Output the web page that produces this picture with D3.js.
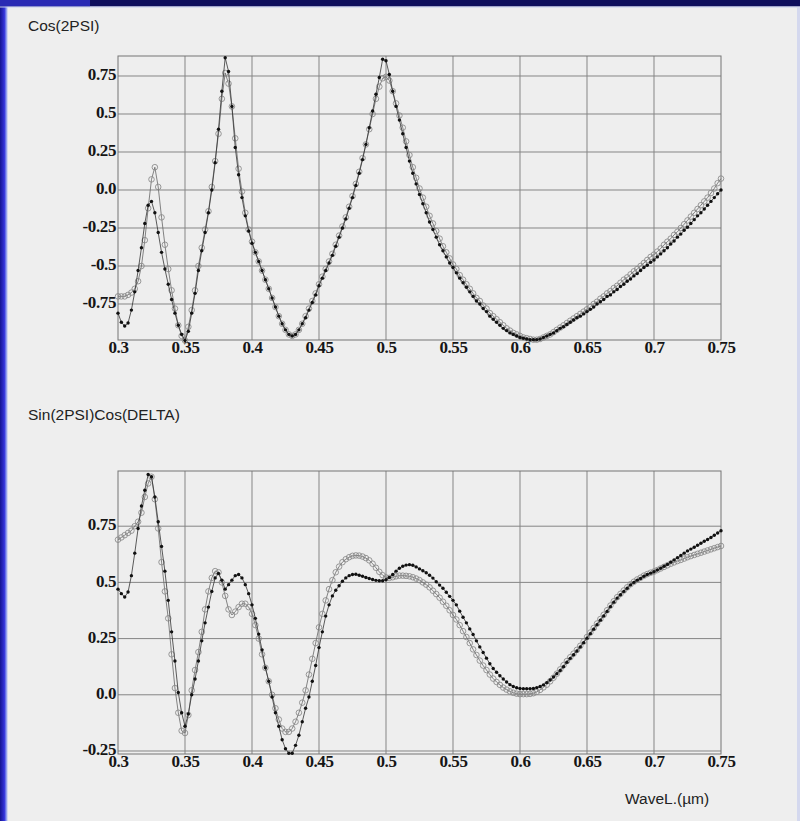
<!DOCTYPE html>
<html>
<head>
<meta charset="utf-8">
<script src="https://cdn.jsdelivr.net/npm/d3@7/dist/d3.min.js"></script>
<style>
  html, body { margin: 0; padding: 0; background: #eeeeee; }
  svg { display: block; }
</style>
</head>
<body>
<svg id="chart" width="800" height="821"></svg>
<script>
// ---- sample grid (wavelength, µm) ----
const waveStart = 0.3;
const waveStep = 0.0025;

// ---- Cos(2PSI) : filled dots ----
const cos2psiFilled = [
 -0.81,-0.87,-0.895,-0.875,-0.79,-0.67,-0.53,-0.38,-0.22,-0.10,
 -0.075,-0.15,-0.28,-0.41,-0.52,-0.62,-0.72,-0.81,-0.89,-0.95,
 -0.99,-0.93,-0.81,-0.68,-0.53,-0.40,-0.28,-0.15,0.0,0.18,
 0.40,0.65,0.87,0.78,0.55,0.28,0.10,-0.05,-0.17,-0.27,
 -0.35,-0.41,-0.47,-0.53,-0.59,-0.65,-0.71,-0.77,-0.83,-0.88,
 -0.92,-0.95,-0.96,-0.95,-0.92,-0.88,-0.84,-0.79,-0.74,-0.69,
 -0.63,-0.58,-0.53,-0.48,-0.43,-0.37,-0.31,-0.25,-0.19,-0.12,
 -0.05,0.03,0.11,0.20,0.30,0.41,0.52,0.63,0.74,0.86,
 0.85,0.76,0.65,0.55,0.46,0.37,0.28,0.19,0.11,0.04,
 -0.03,-0.09,-0.15,-0.21,-0.26,-0.31,-0.36,-0.40,-0.44,-0.48,
 -0.51,-0.545,-0.58,-0.61,-0.64,-0.67,-0.70,-0.73,-0.75,-0.78,
 -0.80,-0.83,-0.85,-0.87,-0.89,-0.91,-0.925,-0.94,-0.95,-0.96,
 -0.97,-0.975,-0.98,-0.985,-0.985,-0.985,-0.98,-0.97,-0.96,-0.95,
 -0.94,-0.925,-0.91,-0.90,-0.885,-0.87,-0.855,-0.84,-0.83,-0.815,
 -0.80,-0.785,-0.77,-0.75,-0.735,-0.72,-0.70,-0.69,-0.67,-0.655,
 -0.635,-0.62,-0.60,-0.585,-0.565,-0.55,-0.53,-0.51,-0.495,-0.475,
 -0.46,-0.44,-0.42,-0.40,-0.38,-0.355,-0.335,-0.31,-0.29,-0.265,
 -0.245,-0.22,-0.195,-0.17,-0.15,-0.125,-0.10,-0.075,-0.05,-0.025,
 0.0
];

// ---- Cos(2PSI) : open circles ----
const cos2psiOpen = [
 -0.70,-0.70,-0.70,-0.69,-0.675,-0.65,-0.60,-0.50,-0.33,-0.12,
 0.07,0.15,0.02,-0.18,-0.36,-0.52,-0.66,-0.78,-0.89,-0.96,
 -0.99,-0.90,-0.79,-0.66,-0.50,-0.38,-0.26,-0.14,0.02,0.19,
 0.37,0.60,0.77,0.70,0.55,0.34,0.14,-0.01,-0.15,-0.26,
 -0.34,-0.41,-0.47,-0.53,-0.59,-0.65,-0.71,-0.77,-0.83,-0.88,
 -0.92,-0.95,-0.96,-0.95,-0.92,-0.88,-0.83,-0.78,-0.73,-0.68,
 -0.62,-0.57,-0.52,-0.47,-0.42,-0.36,-0.30,-0.24,-0.18,-0.11,
 -0.04,0.04,0.12,0.21,0.30,0.40,0.50,0.60,0.68,0.735,
 0.745,0.72,0.65,0.57,0.49,0.41,0.32,0.23,0.15,0.08,
 0.01,-0.05,-0.11,-0.17,-0.22,-0.27,-0.32,-0.37,-0.41,-0.45,
 -0.49,-0.52,-0.56,-0.59,-0.62,-0.65,-0.68,-0.71,-0.73,-0.76,
 -0.78,-0.81,-0.83,-0.85,-0.87,-0.89,-0.91,-0.925,-0.94,-0.95,
 -0.96,-0.97,-0.975,-0.98,-0.985,-0.985,-0.98,-0.97,-0.96,-0.95,
 -0.935,-0.92,-0.905,-0.89,-0.875,-0.86,-0.845,-0.83,-0.815,-0.80,
 -0.785,-0.77,-0.75,-0.735,-0.715,-0.70,-0.68,-0.665,-0.645,-0.63,
 -0.61,-0.59,-0.575,-0.555,-0.535,-0.52,-0.50,-0.48,-0.46,-0.44,
 -0.425,-0.405,-0.385,-0.36,-0.34,-0.32,-0.295,-0.275,-0.25,-0.225,
 -0.20,-0.175,-0.15,-0.125,-0.10,-0.075,-0.05,-0.02,0.01,0.045,
 0.075
];

// ---- Sin(2PSI)Cos(DELTA) : filled dots ----
const sinCosFilled = [
 0.47,0.45,0.435,0.457,0.53,0.63,0.74,0.84,0.91,0.98,
 0.97,0.88,0.77,0.66,0.55,0.42,0.28,0.15,0.01,-0.08,
 -0.14,-0.085,0.0,0.07,0.15,0.24,0.32,0.39,0.46,0.52,
 0.54,0.51,0.47,0.49,0.51,0.53,0.535,0.52,0.49,0.45,
 0.40,0.34,0.27,0.20,0.12,0.06,-0.01,-0.08,-0.14,-0.20,
 -0.24,-0.26,-0.26,-0.225,-0.18,-0.12,-0.06,-0.01,0.06,0.13,
 0.21,0.28,0.35,0.40,0.44,0.465,0.485,0.505,0.52,0.53,
 0.535,0.536,0.532,0.527,0.522,0.517,0.513,0.509,0.507,0.507,
 0.512,0.522,0.535,0.55,0.563,0.572,0.577,0.579,0.576,0.569,
 0.56,0.552,0.543,0.532,0.519,0.503,0.488,0.474,0.456,0.438,
 0.42,0.40,0.372,0.345,0.32,0.293,0.268,0.24,0.213,0.188,
 0.163,0.138,0.117,0.10,0.085,0.07,0.057,0.045,0.037,0.031,
 0.028,0.027,0.027,0.027,0.028,0.032,0.037,0.044,0.054,0.066,
 0.079,0.094,0.108,0.125,0.145,0.162,0.178,0.195,0.213,0.232,
 0.252,0.272,0.292,0.312,0.332,0.351,0.371,0.392,0.412,0.43,
 0.445,0.46,0.474,0.489,0.50,0.51,0.517,0.527,0.535,0.541,
 0.547,0.555,0.563,0.572,0.58,0.59,0.60,0.61,0.62,0.63,
 0.64,0.648,0.656,0.665,0.674,0.683,0.691,0.70,0.71,0.72,
 0.73
];

// ---- Sin(2PSI)Cos(DELTA) : open circles ----
const sinCosOpen = [
 0.69,0.70,0.71,0.72,0.73,0.75,0.77,0.81,0.88,0.94,
 0.97,0.87,0.74,0.59,0.46,0.34,0.18,0.03,-0.08,-0.16,
 -0.17,-0.09,0.02,0.11,0.19,0.28,0.38,0.46,0.52,0.55,
 0.545,0.50,0.44,0.38,0.355,0.37,0.39,0.405,0.405,0.39,
 0.36,0.31,0.25,0.18,0.12,0.06,0.0,-0.06,-0.11,-0.15,
 -0.165,-0.165,-0.15,-0.12,-0.08,-0.035,0.02,0.09,0.16,0.23,
 0.30,0.36,0.42,0.47,0.51,0.545,0.57,0.59,0.603,0.612,
 0.618,0.62,0.619,0.615,0.608,0.598,0.583,0.565,0.547,0.532,
 0.522,0.52,0.523,0.527,0.53,0.53,0.529,0.527,0.523,0.517,
 0.51,0.50,0.49,0.478,0.463,0.448,0.432,0.414,0.396,0.376,
 0.355,0.335,0.31,0.283,0.257,0.23,0.202,0.177,0.152,0.13,
 0.11,0.09,0.072,0.057,0.044,0.032,0.023,0.015,0.009,0.005,
 0.003,0.003,0.003,0.004,0.007,0.013,0.022,0.033,0.045,0.06,
 0.076,0.094,0.113,0.132,0.15,0.167,0.183,0.2,0.218,0.237,
 0.257,0.277,0.297,0.317,0.337,0.356,0.376,0.397,0.416,0.434,
 0.449,0.464,0.478,0.492,0.503,0.513,0.521,0.53,0.537,0.543,
 0.548,0.555,0.562,0.569,0.576,0.583,0.589,0.595,0.60,0.606,
 0.612,0.617,0.622,0.627,0.632,0.637,0.642,0.647,0.652,0.657,
 0.662
];

// ---- ticks ----
const xTicks = [0.3, 0.35, 0.4, 0.45, 0.5, 0.55, 0.6, 0.65, 0.7, 0.75];
const xTickLabels = ["0.3", "0.35", "0.4", "0.45", "0.5", "0.55", "0.6", "0.65", "0.7", "0.75"];
const yTicksTop = [-0.75, -0.5, -0.25, 0, 0.25, 0.5, 0.75];
const yTickLabelsTop = ["-0.75", "-0.5", "-0.25", "0.0", "0.25", "0.5", "0.75"];
const yTicksBottom = [-0.25, 0, 0.25, 0.5, 0.75];
const yTickLabelsBottom = ["-0.25", "0.0", "0.25", "0.5", "0.75"];

const titleTop = "Cos(2PSI)";
const titleBottom = "Sin(2PSI)Cos(DELTA)";
const xTitle = "WaveL.(\u00b5m)";

// ---------------------------------------------------------------
const svg = d3.select("#chart");

// background and blue frame of the slide
svg.append("rect").attr("x", 0).attr("y", 0).attr("width", 800).attr("height", 821).attr("fill", "#eeeeee");
const defs = svg.append("defs");
const lg = defs.append("linearGradient").attr("id", "leftEdge").attr("x1", 0).attr("x2", 1).attr("y1", 0).attr("y2", 0);
lg.append("stop").attr("offset", "0%").attr("stop-color", "#141490");
lg.append("stop").attr("offset", "55%").attr("stop-color", "#3434dc");
lg.append("stop").attr("offset", "80%").attr("stop-color", "#8e9cf0");
lg.append("stop").attr("offset", "100%").attr("stop-color", "#eeeeee");
svg.append("rect").attr("x", 0).attr("y", 0).attr("width", 8).attr("height", 821).attr("fill", "url(#leftEdge)");
svg.append("rect").attr("x", 0).attr("y", 0).attr("width", 800).attr("height", 6.5).attr("fill", "#0e0e5c");
svg.append("rect").attr("x", 0).attr("y", 0).attr("width", 90).attr("height", 6.5).attr("fill", "#2a2ab4");
svg.append("rect").attr("x", 0).attr("y", 6.5).attr("width", 800).attr("height", 1).attr("fill", "#c6cdf0");
svg.append("rect").attr("x", 797).attr("y", 7).attr("width", 3).attr("height", 814).attr("fill", "#d4d8ee");

const waves = cos2psiFilled.map((_, i) => waveStart + i * waveStep);

function panel(cfg) {
  const x = d3.scaleLinear().domain([0.3, 0.75]).range([118, 721]);
  const y = d3.scaleLinear().domain(cfg.yDomain).range([cfg.bottom, cfg.top]);
  const g = svg.append("g");

  // grid
  g.selectAll("line.vg").data(xTicks.slice(1, -1)).enter().append("line")
    .attr("x1", d => x(d)).attr("x2", d => x(d))
    .attr("y1", cfg.top).attr("y2", cfg.bottom)
    .attr("stroke", "#858585").attr("stroke-width", 1);
  g.selectAll("line.hg").data(cfg.yTicks).enter().append("line")
    .attr("x1", 118).attr("x2", 721)
    .attr("y1", d => y(d)).attr("y2", d => y(d))
    .attr("stroke", "#858585").attr("stroke-width", 1);
  g.append("rect").attr("x", 118).attr("y", cfg.top)
    .attr("width", 603).attr("height", cfg.bottom - cfg.top)
    .attr("fill", "none").attr("stroke", "#757575").attr("stroke-width", 1);

  // axes
  const ax = g.append("g").attr("transform", `translate(0,${cfg.bottom})`)
    .call(d3.axisBottom(x).tickValues(xTicks).tickSize(0).tickPadding(1)
      .tickFormat((d, i) => xTickLabels[i]));
  const ay = g.append("g").attr("transform", "translate(118,0)")
    .call(d3.axisLeft(y).tickValues(cfg.yTicks).tickSize(0).tickPadding(2)
      .tickFormat((d, i) => cfg.yLabels[i]));
  [ax, ay].forEach(a => {
    a.select(".domain").remove();
    a.selectAll("text")
      .attr("font-family", "'Liberation Serif', 'DejaVu Serif', serif")
      .attr("font-weight", "bold").attr("font-size", "17px")
      .attr("letter-spacing", "-0.4px").attr("fill", "#151515");
  });
  ay.selectAll("text").attr("dy", "0.22em");

  const pts = (vals) => vals.map((v, i) => [waves[i], v]);
  const line = d3.line().x(d => x(d[0])).y(d => y(d[1]));

  // open circle series
  const openPts = pts(cfg.open);
  g.append("path").attr("d", line(openPts)).attr("fill", "none")
    .attr("stroke", "#666").attr("stroke-width", 0.8);
  g.selectAll("circle.o").data(openPts).enter().append("circle")
    .attr("cx", d => x(d[0])).attr("cy", d => y(d[1])).attr("r", 2.8)
    .attr("fill", "none").attr("stroke", "#888").attr("stroke-width", 0.85);

  // filled series
  const fillPts = pts(cfg.filled);
  g.append("path").attr("d", line(fillPts)).attr("fill", "none")
    .attr("stroke", "#333").attr("stroke-width", 0.8);
  g.selectAll("circle.f").data(fillPts).enter().append("circle")
    .attr("cx", d => x(d[0])).attr("cy", d => y(d[1])).attr("r", 1.7)
    .attr("fill", "#111");

  // title
  svg.append("text").attr("x", 28).attr("y", cfg.titleY).text(cfg.title)
    .attr("font-family", "'Liberation Sans', Arial, sans-serif")
    .attr("font-size", "15.5px").attr("fill", "#222");
}

panel({
  top: 56, bottom: 340, yDomain: [-0.9868, 0.8816],
  yTicks: yTicksTop, yLabels: yTickLabelsTop,
  filled: cos2psiFilled, open: cos2psiOpen,
  title: titleTop, titleY: 31
});
panel({
  top: 471, bottom: 754, yDomain: [-0.2634, 0.9955],
  yTicks: yTicksBottom, yLabels: yTickLabelsBottom,
  filled: sinCosFilled, open: sinCosOpen,
  title: titleBottom, titleY: 420
});

svg.append("text").attr("x", 625).attr("y", 804).text(xTitle)
  .attr("font-family", "'Liberation Sans', Arial, sans-serif")
  .attr("font-size", "15.5px").attr("fill", "#222");
</script>
</body>
</html>
